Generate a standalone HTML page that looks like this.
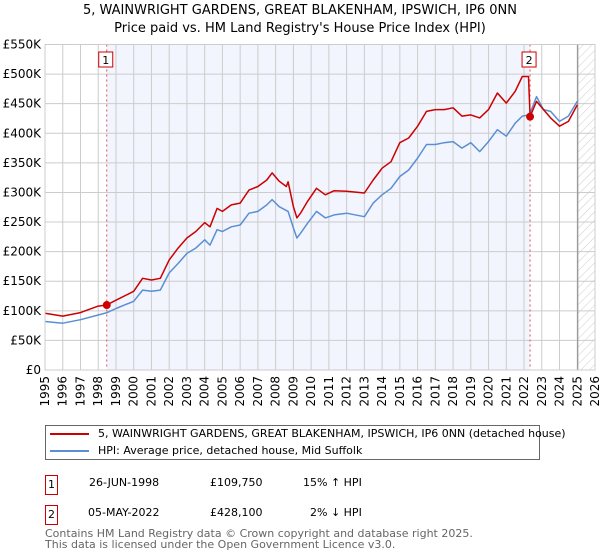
<!DOCTYPE html>
<html><head><meta charset="utf-8"><style>
body{margin:0;background:#fff;font-family:"DejaVu Sans","Liberation Sans",sans-serif;}
#wrap{position:relative;width:600px;height:560px;overflow:hidden}
.t{position:absolute;white-space:nowrap;color:#000}
</style></head><body><div id="wrap">
<div class="t" style="left:0;width:600px;text-align:center;top:2px;font-size:13px;line-height:18px">5, WAINWRIGHT GARDENS, GREAT BLAKENHAM, IPSWICH, IP6 0NN<br>Price paid vs. HM Land Registry's House Price Index (HPI)</div>
<svg id="chart" width="600" height="420" style="position:absolute;left:0;top:0" font-family="DejaVu Sans, Liberation Sans, sans-serif" font-size="12"></svg>
<div style="position:absolute;left:45px;top:425px;width:495px;height:35px;border:1px solid #666;box-sizing:border-box"></div>
<div style="position:absolute;left:50px;top:433px;width:39px;height:2px;background:#cc0000"></div>
<div class="t" style="left:98px;top:427px;font-size:11px">5, WAINWRIGHT GARDENS, GREAT BLAKENHAM, IPSWICH, IP6 0NN (detached house)</div>
<div style="position:absolute;left:50px;top:450px;width:39px;height:2px;background:#5b8fd4"></div>
<div class="t" style="left:98px;top:444px;font-size:11px">HPI: Average price, detached house, Mid Suffolk</div>
<div class="t" style="left:45px;top:475px;width:13px;height:20px;border:1px solid #cc0000;box-sizing:border-box;text-align:center;font-size:11px;line-height:18px">1</div>
<div class="t" style="left:89px;top:476px;font-size:11px">26-JUN-1998</div>
<div class="t" style="left:210px;top:476px;font-size:11px">£109,750</div>
<div class="t" style="left:303px;top:476px;font-size:11px">15% ↑ HPI</div>
<div class="t" style="left:45px;top:505px;width:13px;height:20px;border:1px solid #cc0000;box-sizing:border-box;text-align:center;font-size:11px;line-height:18px">2</div>
<div class="t" style="left:88px;top:506px;font-size:11px">05-MAY-2022</div>
<div class="t" style="left:210px;top:506px;font-size:11px">£428,100</div>
<div class="t" style="left:310px;top:506px;font-size:11px">2% ↓ HPI</div>
<div class="t" style="left:45px;top:528px;font-size:11px;line-height:11px;color:#666">Contains HM Land Registry data © Crown copyright and database right 2025.<br>This data is licensed under the Open Government Licence v3.0.</div>
</div>
<script>
const hpiYears=[1995,1996,1997,1998,1998.5,1999,2000,2000.5,2001,2001.5,2002,2002.5,2003,2003.5,2004,2004.3,2004.7,2005,2005.5,2006,2006.5,2007,2007.5,2007.8,2008.2,2008.7,2009.0,2009.2,2009.4,2009.8,2010.3,2010.8,2011.3,2012,2013,2013.5,2014,2014.5,2015,2015.5,2016,2016.5,2017,2017.5,2018,2018.5,2019,2019.5,2020,2020.5,2021,2021.5,2021.9,2022.3,2022.7,2023.1,2023.5,2024,2024.5,2025.0];
const hpiValues=[82,79,85,93,97,104,116,135,133,135,164,180,197,206,220,211,237,234,242,245,265,268,279,288,276,268,240,223,231,248,268,257,262,265,259,282,296,307,327,338,358,381,381,384,386,375,384,369,386,406,395,417,429,431,462,440,437,420,429,454];
const priceYears=[1995,1996,1997,1998,1998.48,1999,2000,2000.5,2001,2001.5,2002,2002.5,2003,2003.5,2004,2004.3,2004.7,2005,2005.5,2006,2006.5,2007,2007.5,2007.8,2008.2,2008.6,2008.7,2009.0,2009.2,2009.4,2009.8,2010.3,2010.8,2011.3,2012,2013,2013.5,2014,2014.5,2015,2015.5,2016,2016.5,2017,2017.5,2018,2018.5,2019,2019.5,2020,2020.5,2021,2021.5,2021.9,2022.25,2022.34,2022.7,2023.1,2023.5,2024,2024.5,2025.0];
const priceValues=[96,91,97,108,109.75,118,133,155,152,155,186,206,223,234,249,242,273,268,279,282,304,310,321,333,319,310,318,276,257,265,285,307,296,303,302,299,321,341,352,384,392,412,437,440,440,443,429,431,426,440,468,451,471,496,496,428.1,454,440,426,412,420,448];
const sales=[[1998.48,109.75],[2022.34,428.1]];
const yTicks=[0,50,100,150,200,250,300,350,400,450,500,550];
const xTicks=[1995,1996,1997,1998,1999,2000,2001,2002,2003,2004,2005,2006,2007,2008,2009,2010,2011,2012,2013,2014,2015,2016,2017,2018,2019,2020,2021,2022,2023,2024,2025,2026];

const L=45,R=595,T=44.5,B=370,X0=1995,X1=2026,YMAX=550;
const sx=v=>L+(v-X0)/(X1-X0)*(R-L);
const sy=v=>B-v/YMAX*(B-T);
const NS='http://www.w3.org/2000/svg';
const svg=document.getElementById('chart');
function mk(tag,attrs,parent){const e=document.createElementNS(NS,tag);for(const k in attrs)e.setAttribute(k,attrs[k]);(parent||svg).appendChild(e);return e;}

const defs=mk('defs',{});
const pat=mk('pattern',{id:'hatch',width:6,height:6,patternUnits:'userSpaceOnUse',patternTransform:'rotate(45)'},defs);
mk('line',{x1:0,y1:0,x2:0,y2:6,stroke:'#ccc','stroke-width':1},pat);

const band=mk('rect',{x:sx(sales[0][0]),y:T,width:sx(sales[1][0])-sx(sales[0][0]),height:B-T,fill:'#f2f5fd'});


const fut=mk('rect',{x:sx(2025.03),y:T,width:R-sx(2025.03),height:B-T,fill:'url(#hatch)'});



xTicks.forEach(y=>{
  const g=mk('line',{x1:sx(y),x2:sx(y),y1:T,y2:B,stroke:'#ccc','stroke-width':1});
  
  
  const t=mk('text',{x:0,y:0,transform:`translate(${sx(y)+4},${B+6}) rotate(-90)`,'text-anchor':'end',fill:'#000'});
  t.textContent=y;
  
  
});
yTicks.forEach(v=>{
  const g=mk('line',{x1:L,x2:R,y1:sy(v),y2:sy(v),stroke:'#ccc','stroke-width':1});
  
  
  const t=mk('text',{x:L-4,y:sy(v)+4,'text-anchor':'end',fill:'#000'});
  t.textContent=v===0?'£0':'£'+v+'K';
  
  
});
const nowLine=mk('line',{x1:sx(2025.03),x2:sx(2025.03),y1:T,y2:B,stroke:'#888','stroke-width':1});



sales.forEach((s,i)=>{
  const l=mk('line',{x1:sx(s[0]),x2:sx(s[0]),y1:T,y2:B,stroke:'#e05050','stroke-width':1,'stroke-dasharray':'2,3'});
  
  
});

function path(xs,vs,color,name){
  const d=xs.map((x,i)=>(i?'L':'M')+sx(x).toFixed(1)+','+sy(vs[i]).toFixed(1)).join('');
  const p=mk('path',{d,fill:'none',stroke:color,'stroke-width':1.5,'stroke-linejoin':'round'});
  
  
}
path(hpiYears,hpiValues,'#5b8fd4','hpi-line');
path(priceYears,priceValues,'#cc0000','price-line');

sales.forEach((s,i)=>{
  const c=mk('circle',{cx:sx(s[0]),cy:sy(s[1]),r:4,fill:'#cc0000'});
  
  
  const bx=sx(s[0])-8;
  const r=mk('rect',{x:bx,y:52,width:14,height:15,fill:'#fff',stroke:'#cc0000'});
  
  
  const t=mk('text',{x:bx+7,y:64,'text-anchor':'middle','font-size':11,fill:'#000'});
  t.textContent=String(i+1);
  
  
});
const frame=mk('rect',{x:L,y:T,width:R-L,height:B-T,fill:'none',stroke:'#ccc'});


</script>
</body></html>
